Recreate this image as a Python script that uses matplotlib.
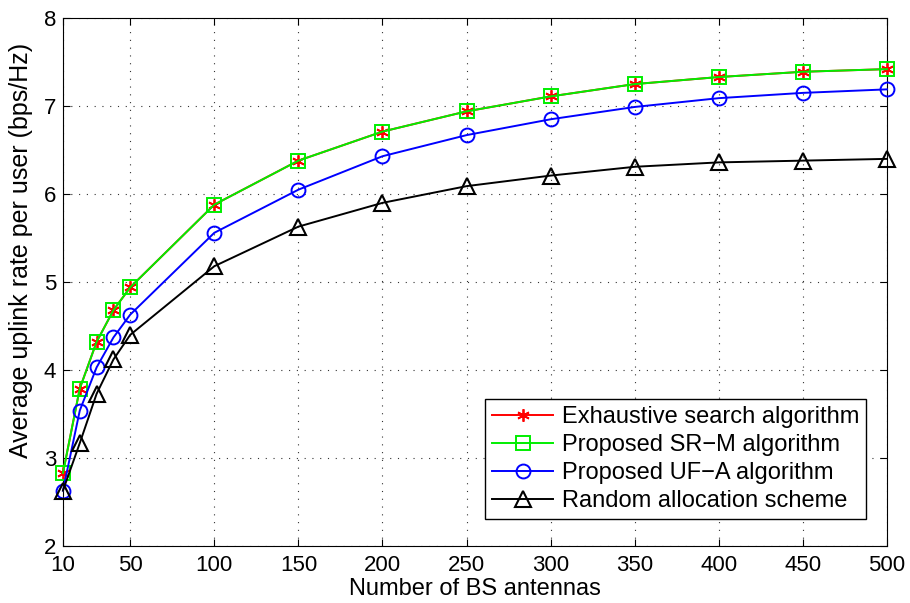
import matplotlib.pyplot as plt
import numpy as np

plt.rcParams["font.family"] = ["Liberation Sans", "DejaVu Sans"]

antennas = [10, 20, 30, 40, 50, 100, 150, 200, 250, 300, 350, 400, 450, 500]

exhaustive = [2.83, 3.79, 4.32, 4.68, 4.94, 5.88, 6.38, 6.71, 6.94, 7.11, 7.25, 7.33, 7.39, 7.42]
sr_m = [2.83, 3.79, 4.32, 4.68, 4.94, 5.88, 6.38, 6.71, 6.94, 7.11, 7.25, 7.33, 7.39, 7.42]
uf_a = [2.63, 3.54, 4.03, 4.37, 4.63, 5.56, 6.05, 6.43, 6.67, 6.85, 6.99, 7.09, 7.15, 7.19]
random_alloc = [2.63, 3.17, 3.73, 4.12, 4.40, 5.18, 5.63, 5.90, 6.09, 6.21, 6.31, 6.36, 6.38, 6.40]

x_ticks = [10, 50, 100, 150, 200, 250, 300, 350, 400, 450, 500]

fig = plt.figure(figsize=(9.1, 6.03), dpi=100)
ax = fig.add_axes([0.0692, 0.0945, 0.9055, 0.8755])

# MATLAB-like asterisk marker
asterisk = (6, 2, 0)

ax.plot(antennas, exhaustive, color="red", marker=asterisk, markersize=9, mew=1.3,
        lw=1.4, clip_on=False, zorder=3, label="Exhaustive search algorithm")
ax.plot(antennas, sr_m, color="#00ee00", marker="s", markersize=10, mfc="none",
        mew=1.4, lw=1.4, clip_on=False, zorder=3, label="Proposed SR\u2212M algorithm")
ax.plot(antennas, uf_a, color="blue", marker="o", markersize=10, mfc="none",
        mew=1.4, lw=1.4, clip_on=False, zorder=3, label="Proposed UF\u2212A algorithm")
ax.plot(antennas, random_alloc, color="black", marker="^", markersize=12, mfc="none",
        mew=1.5, lw=1.4, clip_on=False, zorder=3, label="Random allocation scheme")

ax.set_xlim(10, 500)
ax.set_ylim(2, 8)
ax.set_xticks(x_ticks)
ax.set_yticks(np.arange(2, 9, 1))
ax.tick_params(direction="in", top=True, right=True, labelsize=16, length=5)
ax.tick_params(axis="x", pad=6.5)
ax.tick_params(axis="y", pad=5)
ax.grid(True, linestyle=(0, (1, 6)), color="#333333", linewidth=0.8)

ax.set_xlabel("Number of BS antennas", fontsize=17)
ax.set_ylabel("Average uplink rate per user (bps/Hz)", fontsize=18)
ax.xaxis.set_label_coords(0.5, -0.06)
ax.yaxis.set_label_coords(-0.036, 0.56)

leg = ax.legend(loc="lower right", bbox_to_anchor=(0.9745, 0.051), borderaxespad=0,
                fontsize=17, fancybox=False, edgecolor="black", framealpha=1,
                handlelength=2.6, handletextpad=0.35, borderpad=0.3,
                labelspacing=0.25)
leg.get_frame().set_linewidth(1.0)

fig.savefig("out.png", dpi=100)
